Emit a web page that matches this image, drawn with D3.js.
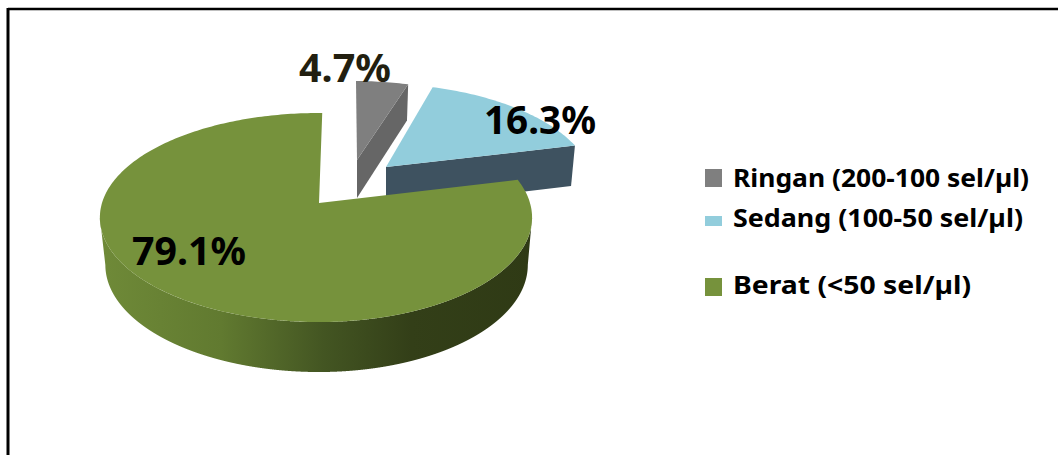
<!DOCTYPE html>
<html>
<head>
<meta charset="utf-8">
<script src="https://cdn.jsdelivr.net/npm/d3@7"></script>
<style>
  html, body { margin: 0; padding: 0; background: #fff; }
  svg { display: block; }
  text { font-family: "Noto Sans", sans-serif; font-weight: 700; fill: #000; }
</style>
</head>
<body>
<svg id="chart" width="1058" height="455"></svg>
<script>
// Severity categories and their share of patients, in percent
const categories = ["Ringan (200-100 sel/µl)", "Sedang (100-50 sel/µl)", "Berat (<50 sel/µl)"];
const percentages = [4.7, 16.3, 79.1];
const percentLabels = ["4.7%", "16.3%", "79.1%"];
const topColors = ["#7f7f7f", "#92cddc", "#76923c"];
const wallColors = ["#666666", "#3e5260", "#3f5020"];

const svg = d3.select("#chart");
const defs = svg.append("defs");
const deg = Math.PI / 180;

// Slice angles come from the data; the chart starts just past twelve o'clock
const pie = d3.pie().sort(null).value(d => d)
  .startAngle(1 * deg).endAngle(361 * deg);
const slices = pie(percentages);

// Perspective applied to the unit disk; k is how far the far edge recedes
const k = 0.139;
const sliceViews = [
  { x0: 357, y0: 160, aL: 203, aR: 203, b: 90,  shear: -0.052, depth: 38 },
  { x0: 386, y0: 167, aL: 203, aR: 203, b: 95,  shear: -0.106, depth: 41 },
  { x0: 319, y0: 203, aL: 217, aR: 211, b: 102.5, shear: 0, depth: 47 }
];

function project(view, angle, r = 1, lower = false) {
  const u = Math.sin(angle) * r, v = Math.cos(angle) * r;
  const f = 1 + k * v;
  const shrinkL = lower ? 0.975 : 1, shrinkR = lower ? 0.98 : 1;
  const a = u < 0 ? view.aL * shrinkL : view.aR * shrinkR;
  const b = lower ? view.b * 1.025 : view.b;
  const py = b * v / f;
  return [
    view.x0 + a * u / f + view.shear * py,
    view.y0 - py + (lower ? view.depth : 0)
  ];
}

const path = d3.line();

function topFace(view, s) {
  const steps = d3.range(s.startAngle, s.endAngle, 1 * deg).concat(s.endAngle);
  return path([[view.x0, view.y0], ...steps.map(t => project(view, t))]) + "Z";
}

// Cut face along the slice's closing radius, as seen on the two small slices
function cutFace(view, s) {
  const rim = project(view, s.endAngle);
  const rimLow = project(view, s.endAngle, 1, true);
  return path([[view.x0, view.y0], rim, rimLow, [view.x0, view.y0 + view.depth]]) + "Z";
}

// Outer wall of the large slice, between its two silhouette points
function outerWall(view, from, to) {
  const steps = d3.range(from, to, 1 * deg).concat(to);
  const upper = steps.map(t => project(view, t * deg));
  const lower = steps.slice().reverse().map(t => project(view, t * deg, 1, true));
  return path([...upper, ...lower]) + "Z";
}

// Horizontal shading across the outer wall
const wallGrad = defs.append("linearGradient")
  .attr("id", "wallShade")
  .attr("gradientUnits", "userSpaceOnUse")
  .attr("x1", 100).attr("x2", 532).attr("y1", 0).attr("y2", 0);
[[0, "#6f8a38"], [0.28, "#617a30"], [0.52, "#435522"], [0.72, "#333f18"], [1, "#2f3a15"]]
  .forEach(([o, c]) => wallGrad.append("stop").attr("offset", o).attr("stop-color", c));

// Frame: heavier on the left than along the top
const frame = svg.append("g").attr("fill", "none").attr("stroke", "#000");
frame.append("line").attr("x1", 8).attr("y1", 9).attr("x2", 1058).attr("y2", 9).attr("stroke-width", 2.5);
frame.append("line").attr("x1", 8).attr("y1", 8).attr("x2", 8).attr("y2", 455).attr("stroke-width", 3);

const pieLayer = svg.append("g");

// Grey and blue slices sit behind the large one
[0, 1].forEach(i => {
  pieLayer.append("path").attr("d", cutFace(sliceViews[i], slices[i])).attr("fill", wallColors[i]);
  pieLayer.append("path").attr("d", topFace(sliceViews[i], slices[i])).attr("fill", topColors[i]);
});

pieLayer.append("path")
  .attr("d", outerWall(sliceViews[2], 98, 262))
  .attr("fill", "url(#wallShade)");
pieLayer.append("path")
  .attr("d", topFace(sliceViews[2], slices[2]))
  .attr("fill", topColors[2]);

// Percentage labels
const labelSpots = [
  { x: 299, y: 82, w: 92, fill: "#221f10" },
  { x: 484, y: 134, w: 112, fill: "#000" },
  { x: 132, y: 265, w: 114, fill: "#000" }
];
svg.append("g").selectAll("text").data(percentLabels).join("text")
  .attr("x", (d, i) => labelSpots[i].x)
  .attr("y", (d, i) => labelSpots[i].y)
  .attr("textLength", (d, i) => labelSpots[i].w)
  .attr("lengthAdjust", "spacingAndGlyphs")
  .attr("font-size", 40)
  .style("fill", (d, i) => labelSpots[i].fill)
  .text(d => d);

// Legend
const legendRows = [
  { swatchY: 169, swatchH: 18, textY: 187, w: 296 },
  { swatchY: 216, swatchH: 10, textY: 227, w: 290 },
  { swatchY: 278, swatchH: 18, textY: 294, w: 238 }
];
const legend = svg.append("g");
legend.selectAll("rect").data(categories).join("rect")
  .attr("x", 705).attr("y", (d, i) => legendRows[i].swatchY)
  .attr("width", 17).attr("height", (d, i) => legendRows[i].swatchH)
  .attr("fill", (d, i) => topColors[i]);
legend.selectAll("text").data(categories).join("text")
  .attr("x", 733).attr("y", (d, i) => legendRows[i].textY)
  .attr("textLength", (d, i) => legendRows[i].w)
  .attr("lengthAdjust", "spacingAndGlyphs")
  .attr("font-size", 25)
  .text(d => d);
</script>
</body>
</html>
